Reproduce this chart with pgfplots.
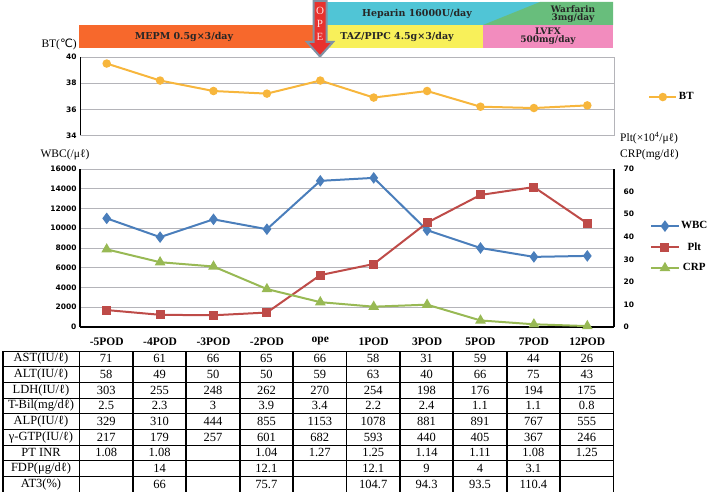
\documentclass[border=0pt]{standalone}
\usepackage{pgfplots}
\pgfplotsset{compat=1.18}
\usepackage{fontspec}
\setmainfont{Liberation Serif}
\newfontfamily\dvsans{DejaVu Sans}
\newfontfamily\dvserif{DejaVu Serif}
\definecolor{mepm}{RGB}{247,104,44}
\definecolor{hep}{RGB}{80,197,214}
\definecolor{warf}{RGB}{104,190,124}
\definecolor{taz}{RGB}{248,240,90}
\definecolor{lvfx}{RGB}{242,140,190}
\definecolor{arrred}{RGB}{232,50,46}
\definecolor{arrgray}{RGB}{128,146,164}
\definecolor{btc}{RGB}{247,182,60}
\definecolor{wbcc}{RGB}{74,126,187}
\definecolor{pltc}{RGB}{190,75,72}
\definecolor{crpc}{RGB}{152,185,84}
\definecolor{gridgray}{RGB}{180,180,185}
\pgfplotsset{
  tlab/.style={font=\dvsans\bfseries\fontsize{7.5}{9}\selectfont},
  longleg/.style={legend image code/.code={\draw[mark repeat=2,mark phase=2] plot coordinates {(0cm,0cm) (0.48cm,0cm) (0.96cm,0cm)};}},
}
\begin{document}
\begin{tikzpicture}
\path[use as bounding box] (0,0) rectangle (709pt,492pt);
% treatment bars
\fill[mepm] (79pt,444pt) rectangle (313pt,467pt);
\fill[hep] (320pt,467pt) rectangle (613pt,490pt);
\fill[warf] (483pt,467pt) -- (540pt,490pt) -- (613pt,490pt) -- (613pt,467pt) -- cycle;
\fill[taz] (320pt,444pt) rectangle (483pt,467pt);
\fill[lvfx] (483pt,444pt) rectangle (613pt,467pt);
\begin{scope}[font=\dvserif\bfseries\fontsize{9.5}{10}\selectfont, text=black!85]
\node at (184pt,455.5pt) {MEPM 0.5g×3/day};
\node at (417pt,478.5pt) {Heparin 16000U/day};
\node at (397pt,455.5pt) {TAZ/PIPC 4.5g×3/day};
\node[align=center, inner sep=0pt, font=\dvserif\bfseries\fontsize{9}{9}\selectfont] at (573pt,478pt) {Warfarin\\[-1pt]3mg/day};
\node[align=center, inner sep=0pt, font=\dvserif\bfseries\fontsize{9}{9}\selectfont] at (548pt,455.5pt) {LVFX\\[-1pt]500mg/day};
\end{scope}
% OPE arrow
\draw[line width=2pt, draw=arrgray, fill=arrred, line join=miter] (313.5pt,491pt) -- (326.5pt,491pt) -- (326.5pt,450pt) -- (333pt,450pt) -- (320pt,435.5pt) -- (307pt,450pt) -- (313.5pt,450pt) -- cycle;
\begin{scope}[font=\fontsize{11}{11}\selectfont, text=pink!45]
\node at (320pt,481pt) {O};
\node at (320pt,468pt) {P};
\node at (320pt,455pt) {E};
\end{scope}
% axis labels
\begin{scope}[font=\fontsize{11.5}{13}\selectfont]
\node[anchor=east, inner sep=0pt] at (77pt,448pt) {BT({\dvsans ℃})};
\node[inner sep=0pt] at (65pt,337pt) {WBC(/μℓ)};
\node[anchor=west, inner sep=0pt] at (620pt,354pt) {Plt(×10\textsuperscript{4}/μℓ)};
\node[anchor=west, inner sep=0pt] at (620pt,337pt) {CRP(mg/dℓ)};
\end{scope}

% BT axis
\begin{axis}[at={(80pt,356.5pt)}, anchor=south west, scale only axis,
  width=534pt, height=78.5pt, xmin=-0.5, xmax=9.5, ymin=34, ymax=40,
  ytick={34,36,38,40}, xtick=\empty, ymajorgrids,
  grid style={gridgray, line width=0.8pt},
  axis line style={gridgray, line width=0.8pt},
  major tick length=0pt, yticklabel style={tlab},
  /pgf/number format/assume math mode=true,
  legend style={at={(1.058,0.49)}, anchor=west, draw=none, fill=none,
    font=\bfseries\fontsize{11}{13}\selectfont, nodes={inner xsep=1.5pt}},
  longleg]
\addplot[btc, line width=2pt, mark=*, mark size=3.2pt, mark options={fill=btc, draw=btc}]
  coordinates {(0,39.5) (1,38.2) (2,37.4) (3,37.2) (4,38.2) (5,36.9) (6,37.4) (7,36.2) (8,36.1) (9,36.3)};
\addlegendentry{BT}
\draw[black, line width=1.2pt] (rel axis cs:0,0) -- (rel axis cs:0,1);
\end{axis}

% WBC axis (left)
\begin{axis}[at={(80pt,165pt)}, anchor=south west, scale only axis,
  width=534pt, height=158pt, xmin=-0.5, xmax=9.5, ymin=0, ymax=16000,
  ytick={0,2000,...,16000}, axis x line*=bottom, axis y line*=left,
  axis line style={black, line width=1.2pt}, ymajorgrids,
  grid style={gridgray, line width=0.8pt},
  xtick={0,...,9},
  xticklabels={-5POD,-4POD,-3POD,-2POD,ope,1POD,3POD,5POD,7POD,12POD},
  xticklabel style={font=\bfseries\fontsize{11.5}{13}\selectfont, yshift=-7pt},
  major tick length=0pt, yticklabel style={tlab},
  /pgf/number format/assume math mode=true,
  /pgf/number format/1000 sep={}, scaled y ticks=false]
\addplot[wbcc, line width=2pt, mark=diamond*, mark size=4.2pt, mark options={fill=wbcc, draw=wbcc}]
  coordinates {(0,11000) (1,9100) (2,10900) (3,9900) (4,14800) (5,15100) (6,9800) (7,8000) (8,7100) (9,7200)};
\end{axis}

% Plt / CRP axis (right)
\begin{axis}[at={(80pt,165pt)}, anchor=south west, scale only axis,
  width=534pt, height=158pt, xmin=-0.5, xmax=9.5, ymin=0, ymax=70,
  ytick={0,10,...,70}, axis y line*=right, axis x line=none,
  axis line style={black, line width=1.2pt},
  major tick length=0pt, yticklabel style={tlab, xshift=6pt},
  /pgf/number format/assume math mode=true,
  legend style={at={(1.062,0.506)}, anchor=west, draw=none, fill=none,
    font=\bfseries\fontsize{11}{13}\selectfont, row sep=8pt, nodes={inner xsep=1.5pt}},
  longleg]
\addlegendimage{wbcc, line width=2pt, mark=diamond*, mark size=4.2pt, mark options={fill=wbcc, draw=wbcc}}
\addlegendentry{WBC}
\addplot[pltc, line width=2pt, mark=square*, mark size=3.5pt, mark options={fill=pltc, draw=pltc}]
  coordinates {(0,7.5) (1,5.4) (2,5.2) (3,6.4) (4,23) (5,27.9) (6,46.2) (7,58.5) (8,62) (9,45.9)};
\addlegendentry{Plt}
\addplot[crpc, line width=2pt, mark=triangle*, mark size=4.2pt, mark options={fill=crpc, draw=crpc}]
  coordinates {(0,34.4) (1,28.7) (2,26.8) (3,16.8) (4,11) (5,9) (6,9.9) (7,2.9) (8,1.2) (9,0.4)};
\addlegendentry{CRP}
\end{axis}

% table
\foreach \i in {0,...,9} {
  \draw[line width=0.9pt] (3pt,{(141-15.667*\i)*1pt}) -- (614pt,{(141-15.667*\i)*1pt});
}
\draw[line width=1.8pt] (3pt,0pt) -- (3pt,141pt);
\foreach \c in {0,...,10} {
  \draw[line width=1.8pt] ({(79.5+53.4*\c)*1pt},0pt) -- ({(79.5+53.4*\c)*1pt},141pt);
}
\begin{scope}[font=\fontsize{12.5}{14}\selectfont]
\foreach \r/\lab/\vals in {%
  0/{AST(IU/ℓ)}/{71,61,66,65,66,58,31,59,44,26},%
  1/{ALT(IU/ℓ)}/{58,49,50,50,59,63,40,66,75,43},%
  2/{LDH(IU/ℓ)}/{303,255,248,262,270,254,198,176,194,175},%
  3/{T-Bil(mg/dℓ)}/{2.5,2.3,3,3.9,3.4,2.2,2.4,1.1,1.1,0.8},%
  4/{ALP(IU/ℓ)}/{329,310,444,855,1153,1078,881,891,767,555},%
  5/{γ-GTP(IU/ℓ)}/{217,179,257,601,682,593,440,405,367,246},%
  6/{PT INR}/{1.08,1.08,{},1.04,1.27,1.25,1.14,1.11,1.08,1.25},%
  7/{FDP(μg/dℓ)}/{{},14,{},12.1,{},12.1,9,4,3.1,{}},%
  8/{AT3(\%)}/{{},66,{},75.7,{},104.7,94.3,93.5,110.4,{}}%
}{%
  \node at (41pt,{(141-15.667*(\r+0.5))*1pt}) {\lab};
  \foreach[count=\c from 0] \v in \vals {
    \node at ({(106.2+53.4*\c)*1pt},{(141-15.667*(\r+0.5))*1pt}) {\v};
  }
}
\end{scope}
\end{tikzpicture}
\end{document}
